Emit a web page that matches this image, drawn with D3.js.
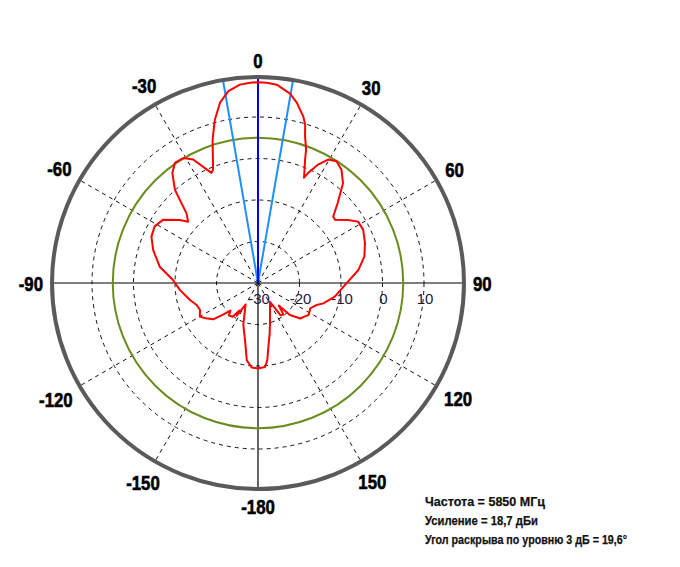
<!DOCTYPE html>
<html><head><meta charset="utf-8">
<script src="https://cdn.jsdelivr.net/npm/d3@7"></script>
<style>body{margin:0;background:#fff}svg{display:block}</style>
</head><body>
<svg id="c" width="680" height="567"></svg>
<script>
// ---- data ----
const patternAngles = [-180,-175.7,-171.7,-167.2,-160.7,-150,-147,-146,-143,-138,-135,-132,-129,-124,-120,-115,-109.7,-104,-95,-88,-80.6,-72.5,-66.5,-61.3,-56.4,-51.1,-48.7,-45.7,-43.8,-41.7,-37.9,-34.7,-30.9,-27.7,-24.8,-22.9,-21.6,-20.1,-17.6,-14.8,-11.9,-8.8,-5.2,-2.3,0,2.5,5.4,9.6,12.2,13.6,15.2,16.6,17.8,19.8,20.9,22.6,23.6,24.5,26.9,29.6,32.8,36.4,40.4,42.9,44.9,48.5,50.6,55,58.5,63.2,69.6,76.1,82.6,90.2,100.1,107.3,110.5,116,119,122.5,126,130,135,137.5,141,145,147.5,163.4,167,170.8,173.1,175.2];
const patternGain   = [-9.4,-9.6,-11.2,-15.9,-19.3,-24,-20.6,-22,-19.8,-19.5,-20.6,-18.5,-16.1,-14.8,-13.8,-14.6,-14.3,-13.1,-11.1,-9.5,-6.0,-3.5,-2.0,-1.6,-2.5,-5.8,-7.6,-5.9,-3.4,0.1,3.6,5.2,5.1,3.6,0.5,-1.2,-0.6,1.6,6.2,10.7,14.4,16.8,18.0,18.3,18.4,18.3,18.0,16.3,14.4,13.0,11.6,9.8,7.1,4.2,1.8,-0.9,-2.3,-0.9,2.0,4.2,4.9,3.9,1.6,-1.0,-2.8,-5.8,-6.0,-3.5,-1.7,-1.6,-2.5,-3.6,-5.6,-8.7,-11.2,-13.5,-14.9,-16.0,-15.8,-15.6,-16.2,-16.7,-19.1,-22.6,-20.2,-20.5,-24.6,-19.9,-17.5,-14.4,-11.3,-9.7];
const ringValues = [-30,-20,-10,0,10];
const gridRings = [-20,-10,0,10];
const spokeAngles = [30,60,120,150,210,240,300,330];
const angleTicks = [0,30,60,90,120,150,-180,-150,-120,-90,-60,-30];
const levelRing = 5;          // green reference circle, dB
const boresight = 0;          // deg
const beamEdges = [-9.8, 9.8];// half of 19.6 deg
const infoLines = ["Частота = 5850 МГц","Усиление = 18,7 дБи","Угол раскрыва по уровню 3 дБ = 19,6°"];

// ---- drawing ----
const svg = d3.select("#c");
const cx = 258, cy = 283;
const r = d3.scaleLinear().domain([-30, 20]).range([0, 207.5]);
const rad = a => a * Math.PI / 180;
const g = svg.append("g").attr("transform", `translate(${cx},${cy})`);
const R = r(20);

// dashed rings
g.selectAll("circle.grid").data(gridRings).enter().append("circle")
  .attr("r", d => r(d)).attr("fill", "none")
  .attr("stroke", "#111").attr("stroke-width", 1).attr("stroke-dasharray", "4,4");
// dashed spokes
g.selectAll("line.spoke").data(spokeAngles).enter().append("line")
  .attr("x1", 0).attr("y1", 0)
  .attr("x2", d => R * Math.sin(rad(d))).attr("y2", d => -R * Math.cos(rad(d)))
  .attr("stroke", "#111").attr("stroke-width", 1).attr("stroke-dasharray", "4,4");
// solid axes
g.append("line").attr("x1", -R).attr("x2", R).attr("y1", 0).attr("y2", 0).attr("stroke", "#000").attr("stroke-width", 1.2);
g.append("line").attr("x1", 0).attr("x2", 0).attr("y1", -R).attr("y2", R).attr("stroke", "#000").attr("stroke-width", 1.2);

// green level circle
g.append("circle").attr("r", r(levelRing)).attr("fill", "none").attr("stroke", "#6a8c1e").attr("stroke-width", 2);

// radial labels
g.selectAll("text.rl").data(ringValues).enter().append("text")
  .attr("x", d => r(d) + 1).attr("y", 21)
  .attr("text-anchor", "middle")
  .attr("font-family", "'Liberation Sans', Arial, sans-serif").attr("font-size", 15)
  .attr("fill", "#1a1a3a").text(d => d);

// beam lines
g.selectAll("line.beam").data(beamEdges).enter().append("line")
  .attr("x1", 0).attr("y1", 0)
  .attr("x2", d => R * Math.sin(rad(d))).attr("y2", d => -R * Math.cos(rad(d)))
  .attr("stroke", "#1e8fff").attr("stroke-width", 2);
g.append("line").attr("x1", 0).attr("y1", 0)
  .attr("x2", R * Math.sin(rad(boresight))).attr("y2", -R * Math.cos(rad(boresight)))
  .attr("stroke", "#0000ee").attr("stroke-width", 2);

// pattern
const pts = patternAngles.map((a, i) => [a, patternGain[i]]);
const line = d3.lineRadial().angle(d => rad(d[0])).radius(d => r(d[1])).curve(d3.curveLinearClosed);
g.append("path").attr("d", line(pts)).attr("fill", "none").attr("stroke", "#ff0000").attr("stroke-width", 2).attr("stroke-linejoin", "round");

// outer circle
g.append("circle").attr("r", 206).attr("fill", "none").attr("stroke", "#5a5a5a").attr("stroke-width", 4);

// angle labels
const sx = 0.8, fs = 21, capH = 15.5;
angleTicks.forEach(a => {
  const t = g.append("g");
  const txt = t.append("text").attr("font-family", "'Liberation Sans', Arial, sans-serif")
    .attr("font-weight", "bold").attr("font-size", fs).attr("text-anchor", "middle")
    .attr("stroke", "#000").attr("stroke-width", 0.6).text(a);
  const w = txt.node().getComputedTextLength() * sx;
  const dx = Math.sin(rad(a)), dy = -Math.cos(rad(a));
  const ext = Math.abs(dx) * w / 2 + Math.abs(dy) * capH / 2;
  const d = 215 + ext;
  const px = d * dx, py = d * dy + capH / 2;
  t.attr("transform", `translate(${px},${py}) scale(${sx},1)`);
});

// info text
const infoX = 425, infoY = [506, 525, 544], infoW = [120, 113, 202];
svg.selectAll("text.info").data(infoLines).enter().append("text")
  .attr("x", infoX).attr("y", (d, i) => infoY[i])
  .attr("font-family", "'Liberation Sans', Arial, sans-serif").attr("font-weight", "bold")
  .attr("font-size", 13.5).attr("fill", "#111").attr("stroke", "#111").attr("stroke-width", 0.25)
  .attr("textLength", (d, i) => infoW[i]).attr("lengthAdjust", "spacingAndGlyphs")
  .text(d => d);
</script>
</body></html>
